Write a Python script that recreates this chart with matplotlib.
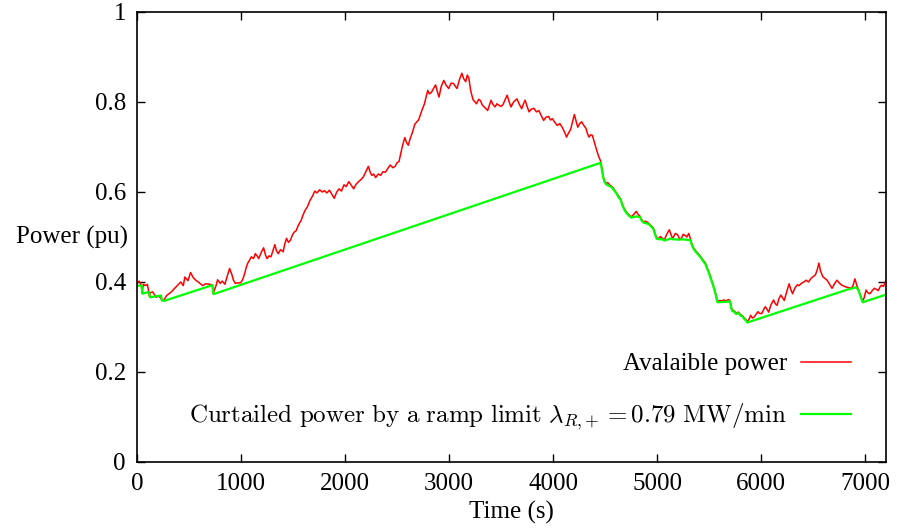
import numpy as np
import matplotlib
matplotlib.use("Agg")
import matplotlib.pyplot as plt

plt.rcParams['font.family'] = ['Liberation Serif', 'DejaVu Serif']
plt.rcParams['mathtext.fontset'] = 'cm'

# Available power (pu)
red_t = [0, 20, 40, 50, 60, 80, 100, 120, 125, 150, 185, 210, 235, 240, 260, 285, 330, 375,
         420, 445, 460, 490, 515, 540, 565, 600, 630, 660, 700, 725, 732, 760, 775, 800, 820,
         845, 866, 890, 910, 927, 945, 965, 995, 1015, 1030, 1050, 1063, 1085, 1100, 1120,
         1138, 1155, 1170, 1195, 1217, 1235, 1250, 1270, 1288, 1310, 1325, 1340, 1358, 1380,
         1405, 1420, 1437, 1455, 1475, 1495, 1512, 1530, 1545, 1560, 1578, 1595, 1615, 1640,
         1662, 1685, 1709, 1730, 1756, 1780, 1802, 1825, 1850, 1875, 1896, 1920, 1943, 1965,
         1990, 2010, 2036, 2060, 2083, 2105, 2130, 2155, 2177, 2200, 2224, 2240, 2257, 2275,
         2294, 2320, 2341, 2365, 2388, 2410, 2434, 2460, 2481, 2500, 2519, 2535, 2551, 2563,
         2575, 2590, 2608, 2625, 2645, 2660, 2669, 2690, 2706, 2725, 2739, 2762, 2780, 2795,
         2810, 2832, 2850, 2870, 2885, 2903, 2925, 2949, 2970, 2996, 3020, 3043, 3060, 3076,
         3100, 3123, 3140, 3160, 3175, 3190, 3207, 3230, 3250, 3263, 3285, 3301, 3320, 3338,
         3355, 3371, 3390, 3404, 3420, 3441, 3460, 3478, 3500, 3520, 3540, 3558, 3578, 3595,
         3620, 3652, 3675, 3698, 3715, 3731, 3750, 3769, 3790, 3815, 3840, 3862, 3885, 3909,
         3930, 3956, 3975, 3993, 4015, 4040, 4065, 4087, 4110, 4129, 4150, 4167, 4185, 4204,
         4220, 4237, 4255, 4274, 4295, 4317, 4330, 4345, 4360, 4377, 4395, 4410, 4425, 4440,
         4458, 4470, 4480, 4495, 4510, 4525, 4541, 4560, 4579, 4595, 4611, 4630, 4649, 4665,
         4682, 4700, 4714, 4735, 4752, 4775, 4799, 4818, 4836, 4852, 4869, 4890, 4916, 4940,
         4963, 4980, 4995, 5015, 5033, 5050, 5070, 5090, 5117, 5135, 5150, 5175, 5197, 5215,
         5234, 5250, 5267, 5285, 5304, 5320, 5337, 5355, 5375, 5395, 5417, 5440, 5464, 5480,
         5501, 5518, 5534, 5550, 5562, 5572, 5581, 5600, 5618, 5640, 5665, 5685, 5700, 5712,
         5721, 5740, 5758, 5780, 5805, 5820, 5838, 5855, 5867, 5885, 5899, 5915, 5932, 5950,
         5969, 5985, 6006, 6022, 6039, 6055, 6072, 6095, 6119, 6135, 6152, 6170, 6189, 6205,
         6222, 6245, 6269, 6285, 6302, 6325, 6349, 6365, 6386, 6410, 6433, 6455, 6480, 6500,
         6522, 6540, 6555, 6570, 6592, 6612, 6634, 6660, 6681, 6705, 6728, 6750, 6774, 6795,
         6812, 6835, 6859, 6880, 6901, 6920, 6938, 6955, 6976, 6990, 7008, 7025, 7046, 7065,
         7087, 7105, 7125, 7145, 7158, 7175, 7186, 7200]
red_p = [0.398, 0.402, 0.393, 0.376, 0.395, 0.392, 0.395, 0.368, 0.376, 0.378, 0.366, 0.369,
         0.362, 0.360, 0.360, 0.370, 0.378, 0.389, 0.400, 0.392, 0.411, 0.403, 0.421, 0.410,
         0.404, 0.398, 0.392, 0.396, 0.395, 0.393, 0.375, 0.392, 0.405, 0.397, 0.402, 0.395,
         0.412, 0.430, 0.418, 0.404, 0.397, 0.398, 0.398, 0.405, 0.415, 0.432, 0.441, 0.450,
         0.456, 0.452, 0.463, 0.458, 0.452, 0.466, 0.476, 0.460, 0.452, 0.458, 0.456, 0.472,
         0.483, 0.470, 0.463, 0.472, 0.467, 0.484, 0.497, 0.488, 0.493, 0.505, 0.511, 0.514,
         0.523, 0.530, 0.537, 0.548, 0.559, 0.568, 0.581, 0.590, 0.602, 0.598, 0.605, 0.600,
         0.603, 0.598, 0.604, 0.594, 0.586, 0.600, 0.607, 0.602, 0.616, 0.612, 0.623, 0.615,
         0.607, 0.617, 0.623, 0.628, 0.634, 0.645, 0.657, 0.645, 0.637, 0.640, 0.632, 0.640,
         0.637, 0.645, 0.644, 0.652, 0.660, 0.654, 0.657, 0.665, 0.668, 0.685, 0.702, 0.712,
         0.721, 0.710, 0.704, 0.718, 0.731, 0.742, 0.750, 0.756, 0.760, 0.772, 0.782, 0.795,
         0.812, 0.826, 0.818, 0.822, 0.830, 0.838, 0.825, 0.811, 0.835, 0.848, 0.838, 0.830,
         0.842, 0.841, 0.835, 0.830, 0.850, 0.864, 0.852, 0.845, 0.860, 0.853, 0.826, 0.805,
         0.800, 0.796, 0.806, 0.803, 0.793, 0.789, 0.785, 0.781, 0.795, 0.804, 0.795, 0.789,
         0.796, 0.793, 0.790, 0.795, 0.806, 0.815, 0.800, 0.789, 0.800, 0.807, 0.795, 0.785,
         0.796, 0.804, 0.790, 0.778, 0.784, 0.786, 0.778, 0.781, 0.770, 0.759, 0.766, 0.768,
         0.760, 0.763, 0.755, 0.748, 0.752, 0.744, 0.733, 0.722, 0.732, 0.738, 0.755, 0.772,
         0.758, 0.744, 0.752, 0.756, 0.748, 0.741, 0.730, 0.722, 0.727, 0.726, 0.712, 0.700,
         0.688, 0.678, 0.668, 0.650, 0.636, 0.624, 0.619, 0.621, 0.616, 0.613, 0.609, 0.602,
         0.598, 0.590, 0.585, 0.573, 0.564, 0.557, 0.553, 0.548, 0.545, 0.550, 0.557, 0.550,
         0.546, 0.538, 0.534, 0.535, 0.531, 0.526, 0.520, 0.508, 0.498, 0.497, 0.501, 0.497,
         0.494, 0.505, 0.516, 0.504, 0.497, 0.508, 0.505, 0.496, 0.497, 0.506, 0.504, 0.500,
         0.508, 0.495, 0.482, 0.474, 0.468, 0.463, 0.457, 0.449, 0.442, 0.432, 0.420, 0.408,
         0.397, 0.385, 0.375, 0.364, 0.357, 0.359, 0.358, 0.360, 0.358, 0.361, 0.359, 0.345,
         0.338, 0.336, 0.331, 0.333, 0.327, 0.325, 0.320, 0.316, 0.312, 0.318, 0.326, 0.320,
         0.322, 0.328, 0.334, 0.330, 0.330, 0.338, 0.345, 0.340, 0.333, 0.350, 0.360, 0.352,
         0.348, 0.362, 0.371, 0.365, 0.359, 0.378, 0.396, 0.383, 0.374, 0.387, 0.394, 0.392,
         0.397, 0.400, 0.404, 0.400, 0.408, 0.412, 0.416, 0.428, 0.442, 0.425, 0.412, 0.408,
         0.404, 0.394, 0.386, 0.396, 0.404, 0.398, 0.393, 0.391, 0.389, 0.388, 0.386, 0.390,
         0.407, 0.392, 0.382, 0.370, 0.357, 0.365, 0.382, 0.376, 0.374, 0.380, 0.386, 0.384,
         0.381, 0.390, 0.393, 0.390, 0.396, 0.403]

# Curtailed power (ramp limited)
green_t = [0, 45, 52, 115, 125, 230, 240, 260, 725, 735, 4458, 4470, 4480, 4495, 4510, 4541,
           4560, 4579, 4611, 4630, 4649, 4665, 4682, 4700, 4714, 4735, 4752, 4800, 4836, 4852,
           4869, 4916, 4940, 4963, 4980, 4995, 5015, 5050, 5070, 5135, 5150, 5215, 5234, 5320,
           5337, 5355, 5375, 5395, 5417, 5440, 5464, 5480, 5501, 5518, 5534, 5550, 5562, 5572,
           5581, 5665, 5700, 5712, 5721, 5740, 5758, 5780, 5805, 5820, 5838, 5855, 5867, 6840,
           6880, 6901, 6920, 6938, 6955, 6976, 7200]
green_p = [0.392, 0.392, 0.374, 0.378, 0.366, 0.370, 0.359, 0.358, 0.393, 0.373, 0.665, 0.648,
           0.634, 0.622, 0.617, 0.613, 0.611, 0.606, 0.596, 0.588, 0.583, 0.571, 0.562, 0.555,
           0.551, 0.546, 0.543, 0.546, 0.544, 0.536, 0.532, 0.529, 0.524, 0.518, 0.506, 0.496,
           0.495, 0.495, 0.492, 0.497, 0.495, 0.494, 0.495, 0.493, 0.480, 0.472, 0.466, 0.461,
           0.455, 0.447, 0.440, 0.430, 0.418, 0.406, 0.395, 0.383, 0.373, 0.362, 0.355, 0.356,
           0.357, 0.343, 0.336, 0.334, 0.329, 0.331, 0.325, 0.323, 0.318, 0.314, 0.310, 0.384,
           0.386, 0.388, 0.387, 0.380, 0.368, 0.355, 0.372]

x_ticks = [0, 1000, 2000, 3000, 4000, 5000, 6000, 7000]
y_ticks = [0, 0.2, 0.4, 0.6, 0.8, 1]
y_ticklabels = ['0', '0.2', '0.4', '0.6', '0.8', '1']

fig = plt.figure(figsize=(8.97, 5.28), dpi=100)
ax = fig.add_axes([137 / 897, 1 - 462 / 528, 749 / 897, 450 / 528])

ax.plot(red_t, red_p, color='#ff0000', lw=1.1, label='Avalaible power')
ax.plot(green_t, green_p, color='#00ff00', lw=1.6,
        label=r'$\mathrm{Curtailed\ power\ by\ a\ ramp\ limit}\ \lambda_{R{,}+}=0.79\ \mathrm{MW/min}$')

ax.set_xlim(0, 7200)
ax.set_ylim(0, 1)
ax.set_xticks(x_ticks)
ax.set_yticks(y_ticks)
ax.set_yticklabels(y_ticklabels)
ax.tick_params(direction='in', length=6, width=1, top=True, right=True,
               labelsize=18, pad=8, colors='black')
for s in ax.spines.values():
    s.set_linewidth(1.2)

ax.set_xlabel('Time (s)', fontsize=18, labelpad=4)
ax.set_ylabel('Power (pu)', fontsize=18, rotation=0, ha='right', va='center')
ax.yaxis.set_label_coords(-0.012, 0.5)

ax.legend(loc='lower right', bbox_to_anchor=(0.97, 0.038), frameon=False, markerfirst=False,
          fontsize=18, handlelength=2.0, handletextpad=0.55, labelspacing=1.05, borderpad=0)

fig.savefig('out.png', dpi=100)
